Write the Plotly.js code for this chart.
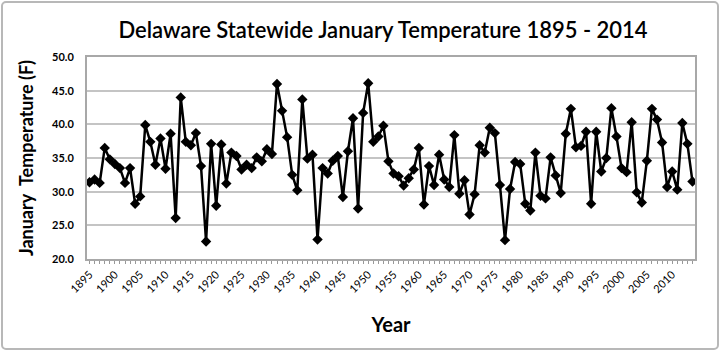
<!DOCTYPE html>
<html>
<head>
<meta charset="utf-8">
<script src="https://cdn.plot.ly/plotly-3.0.1.min.js"></script>
<style>
  html, body { margin: 0; padding: 0; background: #fff; }
  #wrap { position: relative; width: 720px; height: 351px; }
  #chart { width: 720px; height: 351px; }
  #frame { position: absolute; left: 1px; top: 1px; width: 714px; height: 345px;
           border: 2px solid #b8b8b8; border-radius: 5px; pointer-events: none; }
</style>
</head>
<body>
<div id="wrap"><div id="chart"></div><div id="frame"></div></div>
<script>
const startYear = 1895;
const endYear = 2014;
const temps = [
  31.4, 31.8, 31.3, 36.5, 34.8, 34.1, 33.5, 31.3, 33.5, 28.2,
  29.3, 39.9, 37.4, 34.0, 37.9, 33.4, 38.6, 26.1, 44.0, 37.4,
  36.9, 38.7, 33.8, 22.6, 37.1, 27.9, 37.0, 31.2, 35.8, 35.3,
  33.3, 34.0, 33.5, 35.1, 34.5, 36.3, 35.6, 46.0, 42.0, 38.1,
  32.5, 30.2, 43.7, 34.9, 35.5, 22.9, 33.5, 32.7, 34.6, 35.3,
  29.2, 36.0, 40.9, 27.5, 41.7, 46.1, 37.4, 38.2, 39.8, 34.5,
  32.7, 32.3, 30.9, 32.0, 33.3, 36.5, 28.1, 33.8, 31.0, 35.5,
  31.8, 30.7, 38.4, 29.7, 31.7, 26.6, 29.6, 36.9, 35.8, 39.5,
  38.7, 31.0, 22.8, 30.4, 34.4, 34.1, 28.2, 27.2, 35.8, 29.4,
  29.0, 35.1, 32.4, 29.8, 38.6, 42.3, 36.6, 36.8, 38.9, 28.2,
  38.9, 33.0, 35.0, 42.4, 38.2, 33.5, 32.9, 40.3, 29.9, 28.4,
  34.6, 42.3, 40.7, 37.3, 30.7, 33.0, 30.3, 40.2, 37.1, 31.5
];
const years = [];
for (let y = startYear; y <= endYear; y++) years.push(y);
const tickLabelYears = [];
for (let y = 1895; y <= 2010; y += 5) tickLabelYears.push(y);
const tickTexts = years.map(y => tickLabelYears.includes(y) ? String(y) : '');

const FONT = 'Lato, "Open Sans", "Liberation Sans", sans-serif';

const trace = {
  x: years,
  y: temps,
  type: 'scatter',
  mode: 'lines+markers',
  line: { color: '#000000', width: 2.5 },
  marker: { symbol: 'diamond', size: 8, color: '#000000' },
  hoverinfo: 'x+y'
};

const layout = {
  width: 720,
  height: 351,
  margin: { l: 87, r: 25, t: 57, b: 92 },
  paper_bgcolor: '#ffffff',
  plot_bgcolor: '#ffffff',
  showlegend: false,
  title: {
    text: 'Delaware Statewide January Temperature 1895 - 2014',
    font: { family: FONT, size: 22, color: '#000000', weight: 600 },
    x: 0.532, xanchor: 'center', y: 0.915, yanchor: 'middle'
  },
  xaxis: {
    range: [startYear - 0.5, endYear + 0.5],
    tickmode: 'array',
    tickvals: years,
    ticktext: tickTexts,
    tickangle: -45,
    tickfont: { family: FONT, size: 11, color: '#000000' },
    ticks: 'outside', ticklen: 3, tickcolor: '#999999', tickwidth: 1,
    showgrid: false, zeroline: false,
    showline: true, linecolor: '#a8a8a8', linewidth: 2, mirror: true,
    title: { text: 'Year', font: { family: FONT, size: 20, color: '#000000', weight: 700 }, standoff: 24 }
  },
  yaxis: {
    range: [20, 50],
    tickmode: 'linear', tick0: 20, dtick: 5,
    tickformat: '.1f',
    tickfont: { family: FONT, size: 11, color: '#000000', weight: 700 },
    ticks: '', ticklabelstandoff: 9,
    showgrid: true, gridcolor: '#c4c4c4', gridwidth: 2,
    zeroline: false,
    showline: true, linecolor: '#a8a8a8', linewidth: 2, mirror: true,
    title: { text: 'January  Temperature (F)', font: { family: FONT, size: 18, color: '#000000', weight: 700 }, standoff: 14 }
  }
};

Plotly.newPlot('chart', [trace], layout, { staticPlot: true, displayModeBar: false });
</script>
</body>
</html>
